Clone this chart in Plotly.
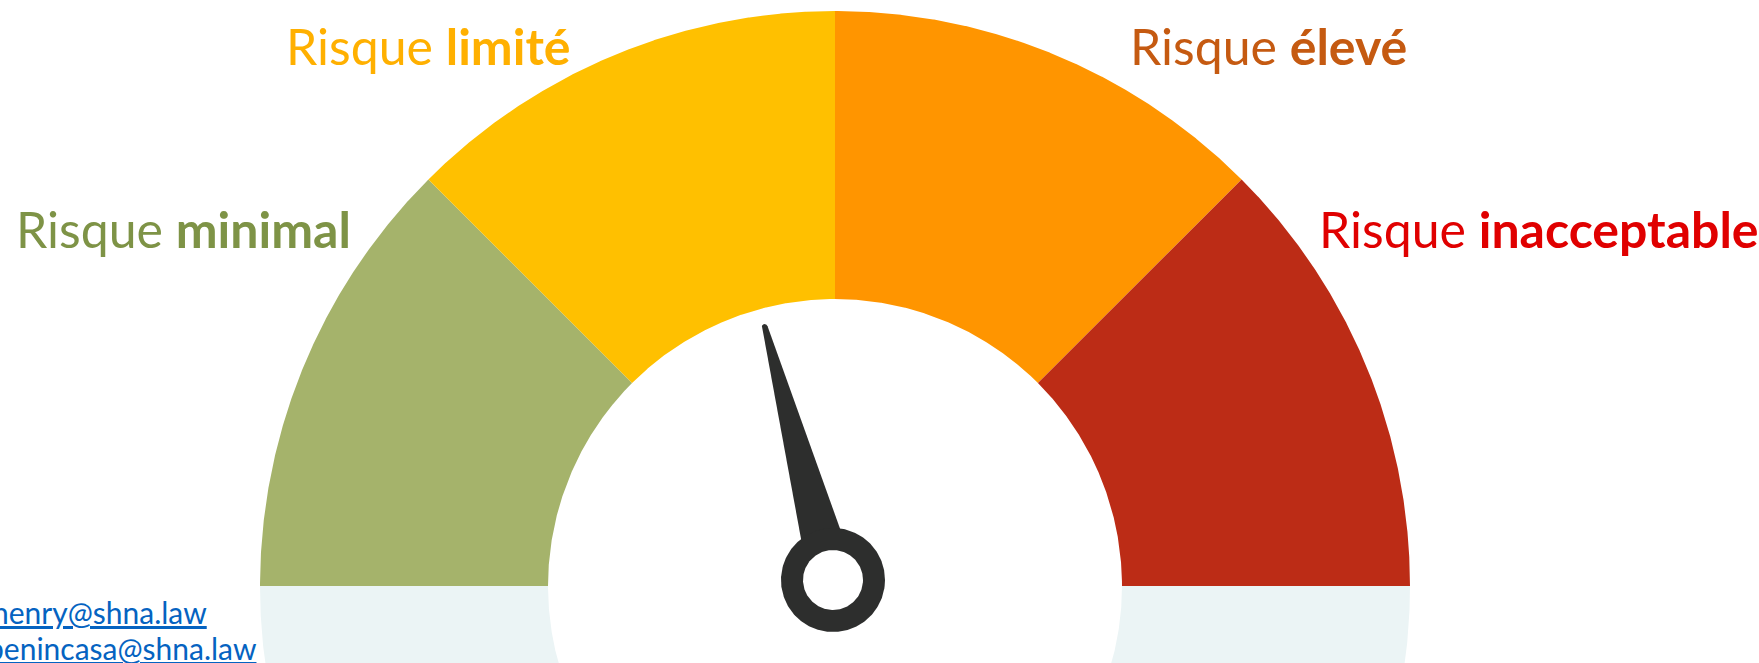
import numpy as np
import plotly.graph_objects as go

# ---- data ----
label_plain = ["Risque ", "Risque ", "Risque ", "Risque "]
label_bold = ["minimal", "limité", "élevé", "inacceptable"]
band_starts = [0, 25, 50, 75]
band_ends = [25, 50, 75, 100]
band_colors = ["#A5B36B", "#FFC000", "#FF9500", "#BC2C16"]
label_colors = ["#7E9346", "#FFB000", "#C55A11", "#E00000"]
needle_value = 41.6
emails = ["henry@shna.law", "benincasa@shna.law"]

# ---- geometry (units of outer radius; 575 px per unit) ----
PX = 575.0
R_OUT, R_IN = 1.0, 287 / PX
W, H = 1759, 663
CX, CY = 835, 586  # gauge centre in pixels


def val2ang(v):
    return np.radians(180 - v * 1.8)


def ring(a0, a1, r0, r1, n=500):
    t = np.linspace(a0, a1, n)
    x = np.concatenate([r1 * np.cos(t), r0 * np.cos(t[::-1])])
    y = np.concatenate([r1 * np.sin(t), r0 * np.sin(t[::-1])])
    return np.append(x, x[0]), np.append(y, y[0])


fig = go.Figure()

# lower light continuation of the ring
lx, ly = ring(np.pi, 2 * np.pi, R_IN, R_OUT, 1000)
fig.add_trace(go.Scatter(x=lx, y=ly, fill="toself", fillcolor="#EBF4F5",
                         mode="lines", line=dict(width=0), hoverinfo="skip"))

for s, e, c in zip(band_starts, band_ends, band_colors):
    bx, by = ring(val2ang(e), val2ang(s), R_IN, R_OUT)
    fig.add_trace(go.Scatter(x=bx, y=by, fill="toself", fillcolor=c,
                             mode="lines", line=dict(width=0, color=c), hoverinfo="skip"))

# needle
px0, py0 = -2 / PX, 6 / PX  # pivot offset
a = val2ang(needle_value)
ux, uy = np.cos(a), np.sin(a)
vx, vy = np.sin(a), -np.cos(a)
d_base, hw_base = 40 / PX, 20.8 / PX
d_tip, hw_tip = 262 / PX, 3 / PX
tt = np.linspace(-np.pi / 2, np.pi / 2, 20)
tip_d = d_tip + hw_tip * np.cos(tt)
tip_p = hw_tip * np.sin(tt)
dd = np.concatenate([[d_base], tip_d, [d_base, d_base]])
pp = np.concatenate([[-hw_base], tip_p, [hw_base, -hw_base]])
nx = px0 + dd * ux + pp * vx
ny = py0 + dd * uy + pp * vy
fig.add_trace(go.Scatter(x=nx, y=ny, fill="toself", fillcolor="#2D2E2D",
                         mode="lines", line=dict(width=0, color="#2D2E2D"), hoverinfo="skip"))
t = np.linspace(0, 2 * np.pi, 240)
fig.add_trace(go.Scatter(x=px0 + 52 / PX * np.cos(t), y=py0 + 52 / PX * np.sin(t), fill="toself",
                         fillcolor="#2D2E2D", mode="lines", line=dict(width=0, color="#2D2E2D"),
                         hoverinfo="skip"))
fig.add_trace(go.Scatter(x=px0 + 30 / PX * np.cos(t), y=py0 + 30 / PX * np.sin(t), fill="toself",
                         fillcolor="#FFFFFF", mode="lines", line=dict(width=0, color="#FFFFFF"),
                         hoverinfo="skip"))

# labels
label_pos = [(14, 229), (284, 46), (1128, 46), (1317, 229)]
for (lx_, ly_), p, b, c in zip(label_pos, label_plain, label_bold, label_colors):
    fig.add_annotation(x=lx_ / W, y=1 - ly_ / H, xref="paper", yref="paper",
                       xanchor="left", yanchor="middle", showarrow=False,
                       text=f"{p}<b>{b}</b>", font=dict(family="Lato", size=50, color=c))

email_pos = [(209, 612), (259, 648)]
for (ex, ey), em in zip(email_pos, emails):
    fig.add_annotation(x=ex / W, y=1 - ey / H, xref="paper", yref="paper",
                       xanchor="right", yanchor="middle", showarrow=False,
                       text=f"<span style='text-decoration:underline'>{em}</span>",
                       font=dict(family="Lato", size=30, color="#0563C1"))

fig.update_xaxes(range=[-CX / PX, (W - CX) / PX], visible=False, fixedrange=True)
fig.update_yaxes(range=[-(H - CY) / PX, CY / PX], visible=False, fixedrange=True)
fig.update_layout(width=W, height=H, margin=dict(l=0, r=0, t=0, b=0),
                  paper_bgcolor="white", plot_bgcolor="white", showlegend=False)

fig.write_html("out.html", config={"displayModeBar": False},
               post_script="document.body.style.margin='0';document.body.style.overflow='hidden';")
